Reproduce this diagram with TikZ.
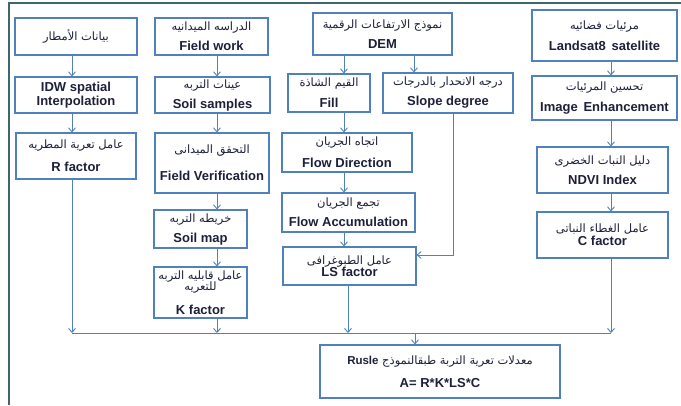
\documentclass[tikz,border=0pt]{standalone}
\usepackage{fontspec}
\setmainfont{Liberation Sans}
\newfontfamily\arabicfont[Script=Arabic]{DejaVu Sans}
\TeXXeTstate=1
\usetikzlibrary{positioning}
\usetikzlibrary{arrows.meta}
\definecolor{boxblue}{RGB}{79,129,189}
\definecolor{frameteal}{RGB}{62,102,110}
\definecolor{inkblue}{RGB}{28,32,58}
\newcommand{\artxt}[1]{{\arabicfont\mdseries\fontsize{11.5}{14}\selectfont\beginR #1\endR}}

\begin{document}
\begin{tikzpicture}[x=1pt,y=-1pt,
        box/.style={draw=boxblue,line width=1.1pt,align=center,text=inkblue,inner sep=1pt,
            font=\fontsize{13}{15}\selectfont\bfseries},
        arr/.style={draw=boxblue,line width=0.9pt,-{Straight Barb[length=4pt,width=7pt]}}]
        \useasboundingbox (0,0) rectangle (681,405);
        \draw[frameteal,line width=2pt] (9,405) -- (9,3) -- (681,3);

        % rain
        \node (Rain)[box,minimum width=122pt,minimum height=37pt] at (76,36.5) {\artxt{بيانات الأمطار}};
        \node (IDW)[box,minimum width=122pt,minimum height=36pt] at (76,95) {IDW spatial\\[-1pt]Interpolation};
        \node (RFactor)[box,minimum width=120pt,minimum height=46pt] at (76,156) {\artxt{عامل تعرية المطريه}\\[8pt]R factor};

        % soil
        \node (FieldWork)[box,minimum width=113pt,minimum height=37pt] at (211.5,36.5) {\artxt{الدراسه الميدانيه}\\[5pt]Field work};
        \node (Samples)[box,minimum width=115pt,minimum height=36pt] at (212.5,95) {\artxt{عينات التربه}\\[5pt]Soil samples};
        \node (Verification)[box,minimum width=114pt,minimum height=60pt] at (212,163) {\artxt{التحقق الميدانى}\\[12pt]Field Verification};
        \node (SoilMap)[box,minimum width=93pt,minimum height=38pt] at (200.5,229) {\artxt{خريطه التربه}\\[5pt]Soil map};
        \node (KFactor)[box,minimum width=93pt,minimum height=51pt] at (200.5,292.5) {\artxt{عامل قابليه التربه}\\[-4pt]\artxt{للتعريه}\\[9pt]K factor};

        % dem
        \node (DEM)[box,minimum width=139pt,minimum height=42pt] at (382.5,34) {\artxt{نموذج الارتفاعات الرقمية}\\[5pt]DEM};
        \node (Fill)[box,minimum width=82pt,minimum height=38pt] at (329,93) {\artxt{القيم الشاذة}\\[6pt]Fill};
        \node (Slope)[box,minimum width=130pt,minimum height=40pt] at (448,93) {\artxt{درجه الانحدار بالدرجات}\\[5pt]Slope degree};
        \node (FlowDir)[box,minimum width=130pt,minimum height=39pt] at (347,152.5) {\artxt{اتجاه الجريان}\\[7pt]Flow Direction};
        \node (FlowAcc)[box,minimum width=133pt,minimum height=39pt] at (348.5,212.5) {\artxt{تجمع الجريان}\\[5pt]Flow Accumulation};
        \node (LSFactor)[box,minimum width=133pt,minimum height=38pt] at (349.5,266) {\artxt{عامل الطبوغرافى}\\[-3pt]LS factor};

        % satellite
        \node (Landsat)[box,minimum width=145pt,minimum height=51pt] at (604.5,35.5) {\artxt{مرئيات فضائيه}\\[6pt]Landsat8\, satellite};
        \node (Enhance)[box,minimum width=145pt,minimum height=44pt] at (604.5,98) {\artxt{تحسين المرئيات}\\[6pt]Image\, Enhancement};
        \node (NDVI)[box,minimum width=131pt,minimum height=46pt] at (602.5,170) {\artxt{دليل النبات الخضرى}\\[5pt]NDVI Index};
        \node (CFactor)[box,minimum width=131pt,minimum height=46pt] at (602.5,235) {\artxt{عامل الغطاء النباتى}\\[-2pt]C factor};

        % result
        \node (Rusle)[box,minimum width=240pt,minimum height=53pt] at (440,371.5) {\artxt{معدلات تعرية التربة طبقالنموذج \beginL{\rmfamily\bfseries Rusle}\endL}\\[8pt]A= R*K*LS*C};

        \coordinate (C1) at (72,0);
        \coordinate (C2) at (217,0);
        \coordinate (C3) at (344,0);
        \coordinate (CS) at (414,0);
        \coordinate (CT) at (453,0);
        \coordinate (CL) at (348,0);
        \coordinate (C4) at (611,0);
        \coordinate (CR) at (415,0);
        \coordinate (Bus) at (0,333);

        \draw [arr] (Rain.south -| C1) -- (IDW.north -| C1);
        \draw [arr] (IDW.south -| C1) -- (RFactor.north -| C1);
        \draw [arr] (RFactor.south -| C1) -- (C1 |- Bus);

        \draw [arr] (FieldWork.south -| C2) -- (Samples.north -| C2);
        \draw [arr] (Samples.south -| C2) -- (Verification.north -| C2);
        \draw [arr] (Verification.south -| C2) -- (SoilMap.north -| C2);
        \draw [arr] (SoilMap.south -| C2) -- (KFactor.north -| C2);
        \draw [arr] (KFactor.south -| C2) -- (C2 |- Bus);

        \draw [arr] (DEM.south -| C3) -- (Fill.north -| C3);
        \draw [arr] (DEM.south -| CS) -- (Slope.north -| CS);
        \draw [arr] (Fill.south -| C3) -- (FlowDir.north -| C3);
        \draw [arr] (FlowDir.south -| C3) -- (FlowAcc.north -| C3);
        \draw [arr] (FlowAcc.south -| C3) -- (LSFactor.north -| C3);
        \draw [arr] (Slope.south -| CT) |- ([yshift=11pt]LSFactor.east);
        \draw [arr] (LSFactor.south -| CL) -- (CL |- Bus);

        \draw [arr] (Landsat.south -| C4) -- (Enhance.north -| C4);
        \draw [arr] (Enhance.south -| C4) -- (NDVI.north -| C4);
        \draw [arr] (NDVI.south -| C4) -- (CFactor.north -| C4);
        \draw [arr] (CFactor.south -| C4) -- (C4 |- Bus);

        \draw [boxblue,line width=0.9pt] (C1 |- Bus) -- (C4 |- Bus);
        \draw [arr] (CR |- Bus) -- (Rusle.north -| CR);
    \end{tikzpicture}
\end{document}
